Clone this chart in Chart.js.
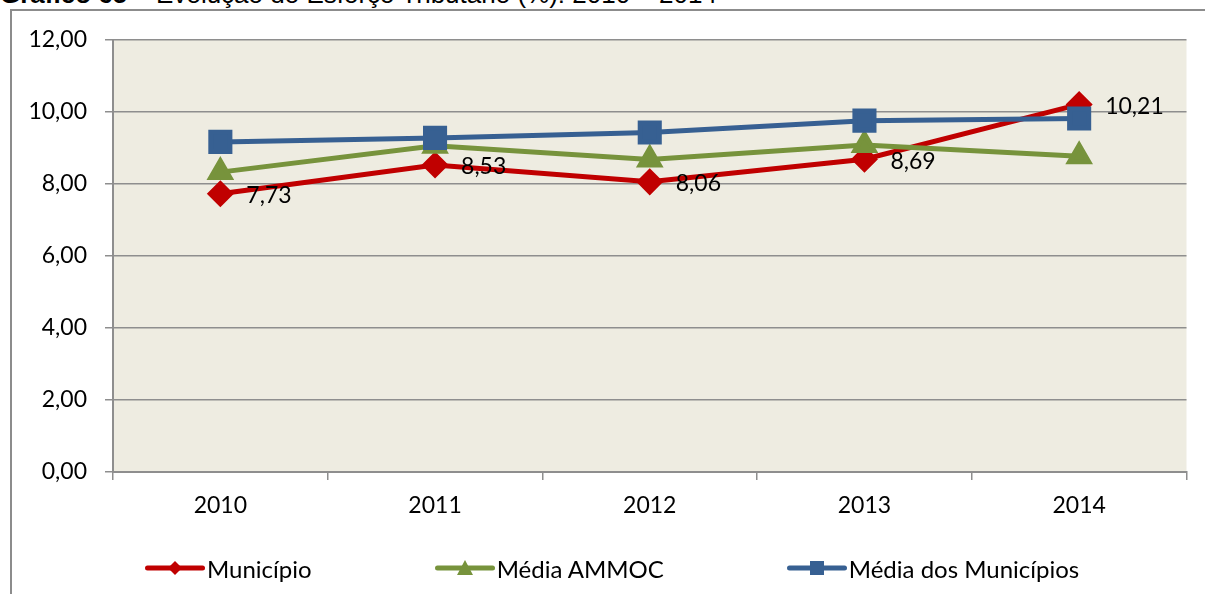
<!DOCTYPE html>
<html>
<head>
<meta charset="utf-8">
<script src="https://cdn.jsdelivr.net/npm/chart.js@4.4.1/dist/chart.umd.min.js"></script>
<style>
  html, body { margin: 0; padding: 0; background: #fff; }
  body { width: 1205px; height: 594px; position: relative; overflow: hidden; }
  #title { position: absolute; left: 0; top: -19px; font: 26px "Liberation Sans", Arial, sans-serif; line-height: 26px; white-space: nowrap; color: #000; }
  #frame { position: absolute; left: 10px; top: 9px; width: 1300px; height: 700px; border-left: 2px solid #8c8c8c; border-top: 2px solid #8c8c8c; }
  #wrap { position: absolute; left: 0; top: 0; width: 1205px; height: 594px; }
  #legend { position: absolute; left: 145px; top: 553px; display: flex; gap: 123px; font: 24px Lato, "Noto Sans", sans-serif; color: #000; }
  #legend .item { display: flex; align-items: center; height: 30px; }
  #legend svg { display: block; margin-right: 2px; }
</style>
</head>
<body>
<div id="title"><b>Gráfico 65</b> – Evolução do Esforço Tributário (%): 2010 – 2014</div>
<div id="frame"></div>
<div id="wrap"><canvas id="chart" width="1205" height="594"></canvas></div>
<div id="legend"></div>
<script>
// data
const years = ["2010", "2011", "2012", "2013", "2014"];
const municipio = [7.73, 8.53, 8.06, 8.69, 10.21];
const mediaAmmoc = [8.33, 9.06, 8.68, 9.08, 8.77];
const mediaMunicipios = [9.17, 9.28, 9.43, 9.76, 9.82];
const yTicks = [0, 2, 4, 6, 8, 10, 12];

const RED = "#C00000";
const GREEN = "#77933C";
const BLUE = "#376092";
const GRID = "#8e8e8e";
const PLOT_BG = "#EEECE1";
const FONT = "Lato, 'Noto Sans', sans-serif";

const fmt = v => v.toFixed(2).replace(".", ",");

// tan fill behind the plot area
const bgPlugin = {
  id: "plotBg",
  beforeDraw(chart) {
    const a = chart.chartArea;
    const ctx = chart.ctx;
    ctx.save();
    ctx.fillStyle = PLOT_BG;
    ctx.fillRect(a.left, a.top, a.right - a.left, a.bottom - a.top);
    ctx.restore();
  }
};

// value labels to the right of the Município points
const labelPlugin = {
  id: "valueLabels",
  afterDatasetsDraw(chart) {
    const meta = chart.getDatasetMeta(0);
    const ctx = chart.ctx;
    ctx.save();
    ctx.font = "23px " + FONT;
    ctx.fillStyle = "#000";
    ctx.textAlign = "left";
    ctx.textBaseline = "middle";
    meta.data.forEach((pt, i) => {
      ctx.fillText(fmt(municipio[i]), pt.x + 26, pt.y + 2);
    });
    ctx.restore();
  }
};

const chart = new Chart(document.getElementById("chart"), {
  type: "line",
  data: {
    labels: years,
    datasets: [
      { label: "Município", data: municipio, borderColor: RED, backgroundColor: RED,
        pointStyle: "rectRot", pointRadius: 10, borderWidth: 5, order: 2 },
      { label: "Média AMMOC", data: mediaAmmoc, borderColor: GREEN, backgroundColor: GREEN,
        pointStyle: "triangle", pointRadius: 11, borderWidth: 5, order: 1 },
      { label: "Média dos Municípios", data: mediaMunicipios, borderColor: BLUE, backgroundColor: BLUE,
        pointStyle: "rect", pointRadius: 13.5, borderWidth: 5, order: 0 }
    ]
  },
  options: {
    responsive: false,
    animation: false,
    events: [],
    layout: { padding: { left: 0, top: 40, right: 17, bottom: 0 } },
    elements: { point: { borderWidth: 1 }, line: { tension: 0 } },
    plugins: { legend: { display: false }, tooltip: { enabled: false } },
    scales: {
      x: {
        offset: true,
        grid: { offset: true, drawOnChartArea: false, color: GRID, lineWidth: 1.5, tickLength: 8 },
        border: { color: GRID, width: 2 },
        ticks: { color: "#000", font: { family: FONT, size: 23 }, padding: 12 },
        afterFit: s => { s.height = 122; }
      },
      y: {
        min: 0, max: 12,
        afterBuildTicks: s => { s.ticks = yTicks.map(v => ({ value: v })); },
        grid: { color: GRID, lineWidth: 1.5, tickLength: 8 },
        border: { color: GRID, width: 2 },
        ticks: { color: "#000", font: { family: FONT, size: 23 }, padding: 18, callback: v => fmt(v) },
        afterFit: s => { s.width = 113; }
      }
    }
  },
  plugins: [bgPlugin, labelPlugin]
});

// html legend: line with marker, then the name
const markers = {
  rectRot: c => `<polygon points="30,4 37,11 30,18 23,11" fill="${c}"/>`,
  triangle: c => `<polygon points="30,3 38,18 22,18" fill="${c}"/>`,
  rect: c => `<rect x="23" y="4" width="14" height="14" fill="${c}"/>`
};
const legend = document.getElementById("legend");
chart.data.datasets.forEach(ds => {
  const item = document.createElement("div");
  item.className = "item";
  item.innerHTML =
    `<svg width="60" height="22" viewBox="0 0 60 22">` +
    `<line x1="2.5" y1="11" x2="57.5" y2="11" stroke="${ds.borderColor}" stroke-width="5" stroke-linecap="round"/>` +
    markers[ds.pointStyle](ds.borderColor) + `</svg><span>${ds.label}</span>`;
  legend.appendChild(item);
});
</script>
</body>
</html>
